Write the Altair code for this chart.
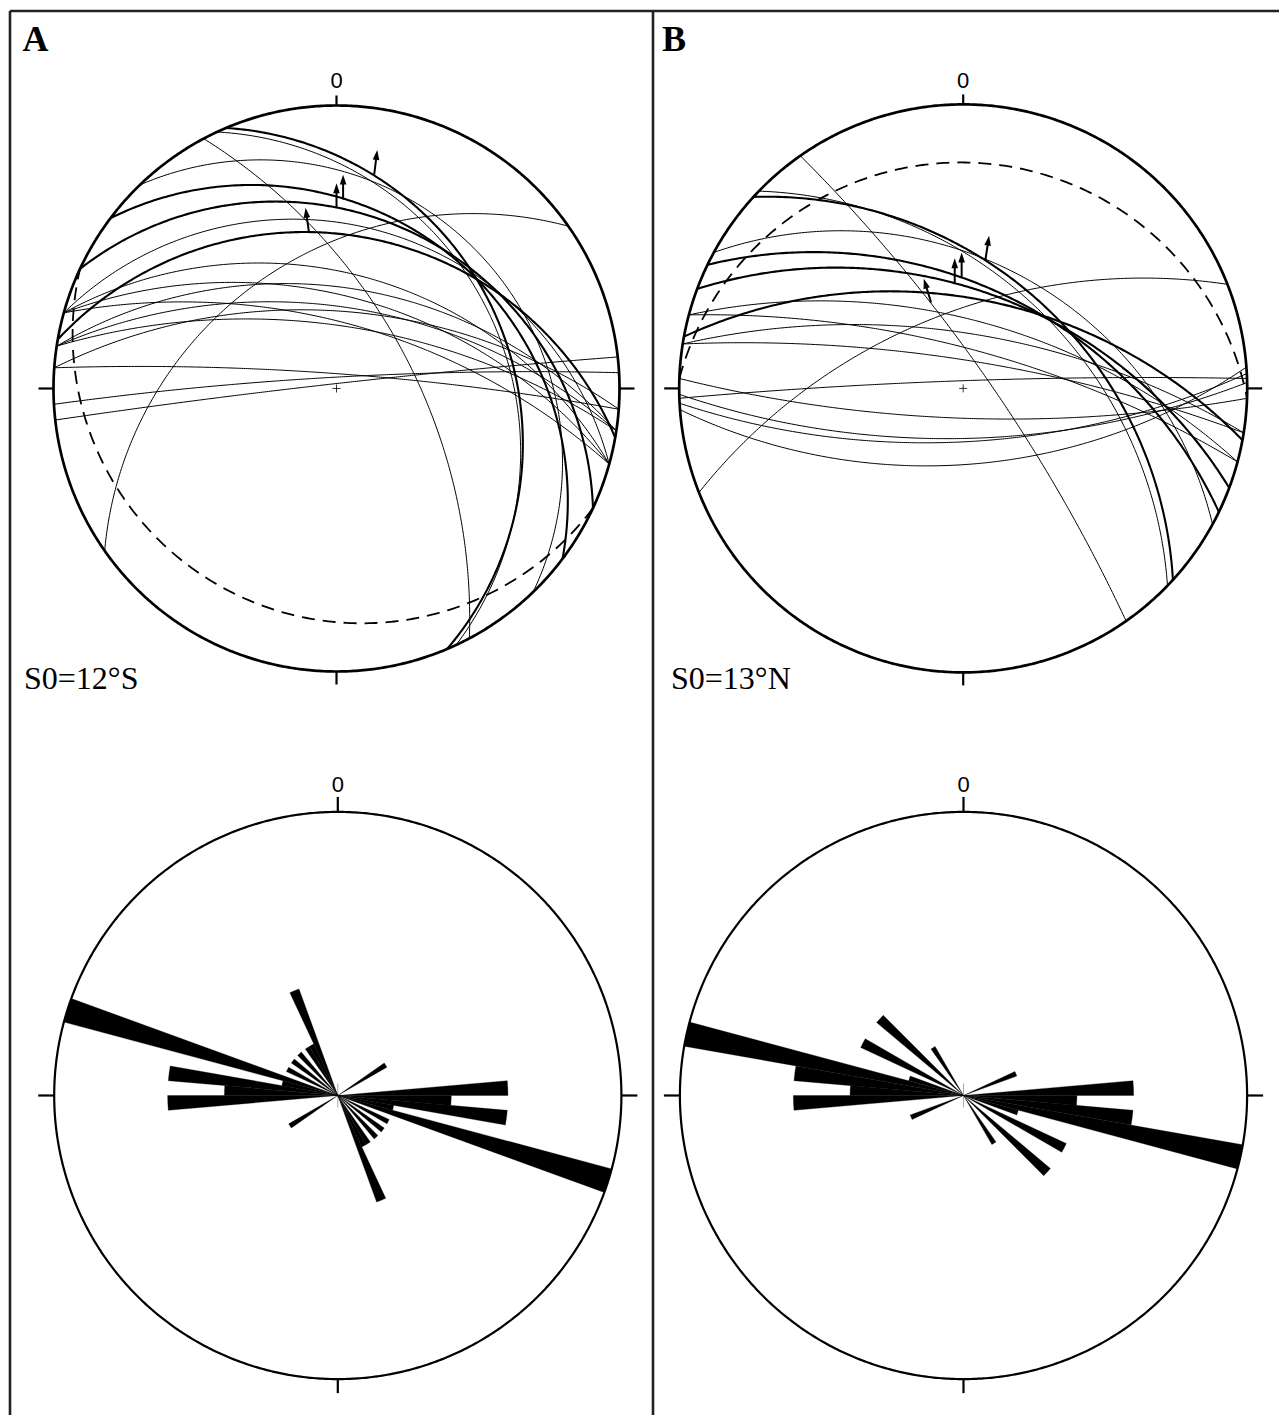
import numpy as np
import pandas as pd
import altair as alt

# ---------------- data ----------------
# Panel A great circles (strike, right-hand rule, and dip in degrees)
A_thick_strike = [337, 307, 295, 280]
A_thick_dip = [26.5, 26.5, 27, 33]
A_thin_strike = [335, 332, 316, 235, 285.5, 285.5, 278.6, 285.5, 278.6, 274.2, 285.5, 278.6, 266.8, 274.2, 263.6]
A_thin_dip = [28, 60, 20.5, 40, 30, 45.8, 50.7, 54, 57.8, 59.4, 63.9, 65, 85.4, 84, 88]
A_bedding = [115, 12]          # S0 = 12°S
A_lin_trend = [10, 0, 2, 350]
A_lin_plunge = [15, 25, 22.5, 31.5]
A_slip_az = [7, 0, 0, 352]

# Panel B great circles
B_thick_strike = [312.4, 295.8, 290.5, 280.5]
B_thick_dip = [45.7, 50.5, 52, 54.7]
B_thin_strike = [314, 325, 298.6, 248.5, 285, 279, 285, 279, 268, 88.8, 85.7, 87, 92]
B_thin_dip = [48, 80, 42, 60, 62.8, 68, 74, 78.6, 86.9, 70, 60, 68.7, 78]
B_bedding = [272, 13]          # S0 = 13°N
B_lin_trend = [9.8, 355.4, 359.2, 339.5]
B_lin_plunge = [40.8, 49.2, 47.3, 54.2]
B_slip_az = [8.7, 0, 0, 343]

# Rose diagrams: 5-degree strike bins (start angle, 0-180; mirrored), counts
roseA_bin = [55, 85, 90, 95, 100, 105, 115, 125, 135, 145, 150, 155]
roseA_count = [1, 3, 2, 3, 1, 5, 1, 1, 1, 1, 1, 2]
roseB_bin = [65, 85, 90, 95, 100, 105, 115, 130, 145]
roseB_count = [1, 3, 2, 3, 5, 1, 2, 2, 1]
rose_max = 5

labels_panel = ["A", "B"]
labels_bed = ["S0=12°S", "S0=13°N"]

# ---------------- layout ----------------
W, H = 1271, 1407
X0, Y0 = 8, 8
NET = {"A": (336.5, 388.5, 283.0), "B": (963.2, 388.4, 284.0)}
ROSE = {"A": (337.8, 1095.5, 283.6), "B": (963.5, 1095.5, 283.6)}

xs = alt.Scale(domain=[X0, X0 + W], nice=False, zero=False)
ys = alt.Scale(domain=[Y0, Y0 + H], nice=False, zero=False, reverse=True)
X = lambda f="x": alt.X(f + ":Q", scale=xs, axis=None)
Y = lambda f="y": alt.Y(f + ":Q", scale=ys, axis=None)


def proj(e, n, d, cx, cy, R):
    return cx + R * e / (1 + d), cy - R * n / (1 + d)


def great_circle(s, dip, cx, cy, R, npts=241):
    s, dip = np.radians(s), np.radians(dip)
    t = np.linspace(0, np.pi, npts)
    S = np.array([np.sin(s), np.cos(s), 0.0])
    D = np.array([np.cos(dip) * np.sin(s + np.pi / 2), np.cos(dip) * np.cos(s + np.pi / 2), np.sin(dip)])
    v = np.outer(np.cos(t), S) + np.outer(np.sin(t), D)
    return proj(v[:, 0], v[:, 1], v[:, 2], cx, cy, R)


def circles_df(strikes, dips, net, tag):
    cx, cy, R = net
    rows = []
    for i, (s, d) in enumerate(zip(strikes, dips)):
        x, y = great_circle(s, d, cx, cy, R)
        for k in range(len(x)):
            rows.append({"id": f"{tag}{i}", "k": k, "x": x[k], "y": y[k]})
    return pd.DataFrame(rows)


def line_layer(df, width, dash=None, color="black"):
    kw = dict(stroke=color, strokeWidth=width)
    if dash is not None:
        kw["strokeDash"] = dash
    return alt.Chart(df).mark_line(**kw).encode(x=X(), y=Y(), detail="id:N", order="k:Q")


layers = []

# frame
frame = pd.DataFrame([
    {"x": 10, "y": 11, "x2": X0 + W, "y2": 11},
    {"x": 10, "y": 11, "x2": 10, "y2": Y0 + H},
    {"x": 653, "y": 11, "x2": 653, "y2": Y0 + H},
])
layers.append(alt.Chart(frame).mark_rule(stroke="#222", strokeWidth=2.6).encode(
    x=X(), y=Y(), x2="x2:Q", y2="y2:Q"))

# primitive circles + ticks
prim_rows, tick_rows = [], []
ang = np.linspace(0, 2 * np.pi, 721)
for name, (cx, cy, R), tn, ts, te in [
    ("netA", NET["A"], 10, 13, 15), ("netB", NET["B"], 10, 13, 15),
    ("roseA", ROSE["A"], 15, 14, 16), ("roseB", ROSE["B"], 15, 14, 16)]:
    for k, a in enumerate(ang):
        prim_rows.append({"id": name, "k": k, "x": cx + R * np.sin(a), "y": cy - R * np.cos(a)})
    tick_rows += [
        {"x": cx, "y": cy - R, "x2": cx, "y2": cy - R - tn},
        {"x": cx, "y": cy + R, "x2": cx, "y2": cy + R + ts},
        {"x": cx + R, "y": cy, "x2": cx + R + te, "y2": cy},
        {"x": cx - R, "y": cy, "x2": cx - R - te, "y2": cy},
    ]
prim = pd.DataFrame(prim_rows)
layers.append(line_layer(prim[prim.id.str.startswith("net")], 2.7))
layers.append(line_layer(prim[prim.id.str.startswith("rose")], 2.2))
layers.append(alt.Chart(pd.DataFrame(tick_rows)).mark_rule(stroke="black", strokeWidth=2.2).encode(
    x=X(), y=Y(), x2="x2:Q", y2="y2:Q"))

# centre marks
cm = []
for cx, cy, R in NET.values():
    cm += [{"x": cx - 4, "y": cy, "x2": cx + 4, "y2": cy}, {"x": cx, "y": cy - 4, "x2": cx, "y2": cy + 4}]
layers.append(alt.Chart(pd.DataFrame(cm)).mark_rule(stroke="black", strokeWidth=0.8).encode(
    x=X(), y=Y(), x2="x2:Q", y2="y2:Q"))
rc = [{"x": cx, "y": cy - 12, "x2": cx, "y2": cy + 12} for cx, cy, R in ROSE.values()]
layers.append(alt.Chart(pd.DataFrame(rc)).mark_rule(stroke="#aaaaaa", strokeWidth=1).encode(
    x=X(), y=Y(), x2="x2:Q", y2="y2:Q"))

# great circles
thin = pd.concat([circles_df(A_thin_strike, A_thin_dip, NET["A"], "at"),
                  circles_df(B_thin_strike, B_thin_dip, NET["B"], "bt")])
thick = pd.concat([circles_df(A_thick_strike, A_thick_dip, NET["A"], "aT"),
                   circles_df(B_thick_strike, B_thick_dip, NET["B"], "bT")])
bed = pd.concat([circles_df([A_bedding[0]], [A_bedding[1]], NET["A"], "aS"),
                 circles_df([B_bedding[0]], [B_bedding[1]], NET["B"], "bS")])
layers.append(line_layer(thin, 1.0))
layers.append(line_layer(thick, 2.1))
layers.append(line_layer(bed, 1.8, dash=[13, 8]))

# slip arrows on lineations
arr_rows, head_rows = [], []
L = 24
for net, tr_l, pl_l, az_l in [(NET["A"], A_lin_trend, A_lin_plunge, A_slip_az),
                              (NET["B"], B_lin_trend, B_lin_plunge, B_slip_az)]:
    cx, cy, R = net
    for tr, pl, az in zip(tr_l, pl_l, az_l):
        t, p = np.radians(tr), np.radians(pl)
        bx, by = proj(np.cos(p) * np.sin(t), np.cos(p) * np.cos(t), np.sin(p), cx, cy, R)
        a = np.radians(az)
        tx, ty = bx + L * np.sin(a), by - L * np.cos(a)
        arr_rows.append({"x": bx, "y": by, "x2": bx + (L - 6) * np.sin(a), "y2": by - (L - 6) * np.cos(a)})
        head_rows.append({"x": tx - 4.5 * np.sin(a), "y": ty + 4.5 * np.cos(a), "az": az})
layers.append(alt.Chart(pd.DataFrame(arr_rows)).mark_rule(stroke="black", strokeWidth=2.0).encode(
    x=X(), y=Y(), x2="x2:Q", y2="y2:Q"))
layers.append(alt.Chart(pd.DataFrame(head_rows)).mark_point(
    shape="M0,-1L0.62,0.85L-0.62,0.85Z", filled=True, fill="black", strokeWidth=0, size=115, opacity=1).encode(
    x=X(), y=Y(), angle=alt.Angle("az:Q", scale=None)))

# rose diagrams
for key, bins, counts in [("A", roseA_bin, roseA_count), ("B", roseB_bin, roseB_count)]:
    cx, cy, R = ROSE[key]
    rows = []
    for b, c in zip(bins, counts):
        for off in (0, 180):
            rows.append({"t1": np.radians(b + off), "t2": np.radians(b + off + 5), "c": c})
    layers.append(alt.Chart(pd.DataFrame(rows)).mark_arc(
        x=cx - X0, y=cy - Y0, fill="black", stroke="black", strokeWidth=0.3).encode(
        theta=alt.Theta("t1:Q", scale=None), theta2="t2:Q",
        radius=alt.Radius("c:Q", scale=alt.Scale(type="linear", domain=[0, rose_max], range=[0, R]))))

# texts
txt_panel = pd.DataFrame({"x": [22.5, 662], "y": [51, 51], "t": labels_panel})
layers.append(alt.Chart(txt_panel).mark_text(
    font="Liberation Serif", fontWeight="bold", fontSize=36, align="left", baseline="alphabetic").encode(
    x=X(), y=Y(), text="t:N"))
txt_bed = pd.DataFrame({"x": [24, 671], "y": [689, 689], "t": labels_bed})
layers.append(alt.Chart(txt_bed).mark_text(
    font="Liberation Serif", fontSize=32, align="left", baseline="alphabetic").encode(
    x=X(), y=Y(), text="t:N"))
zero = pd.DataFrame({"x": [NET["A"][0], NET["B"][0], ROSE["A"][0], ROSE["B"][0]],
                     "y": [87.5, 87.5, 792, 792], "t": ["0"] * 4})
layers.append(alt.Chart(zero).mark_text(
    font="Liberation Sans", fontSize=22, align="center", baseline="alphabetic").encode(
    x=X(), y=Y(), text="t:N"))

chart = alt.layer(*layers).properties(
    width=W, height=H, padding=0, background="white",
    autosize=alt.AutoSizeParams(type="none"),
).configure_view(stroke=None)

chart.save("out.html", embed_options={"renderer": "svg", "actions": False})
